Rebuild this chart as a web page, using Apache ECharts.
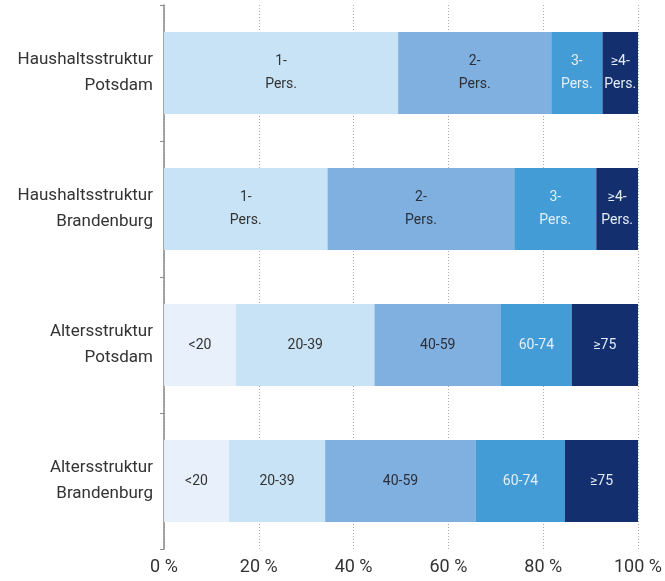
<!DOCTYPE html>
<html>
<head>
<meta charset="utf-8">
<script src="https://cdn.jsdelivr.net/npm/echarts@6/dist/echarts.min.js"></script>
<style>
  html, body { margin: 0; padding: 0; background: #fff; }
  #chart { width: 665px; height: 581px; }
</style>
</head>
<body>
<div id="chart"></div>
<script>
// Kategorien (oben nach unten)
var categories = ['Haushaltsstruktur\nPotsdam', 'Haushaltsstruktur\nBrandenburg', 'Altersstruktur\nPotsdam', 'Altersstruktur\nBrandenburg'];

// Anteile in %, je Farbstufe (hell -> dunkel)
var stufe1 = [null, null, 15.2, 13.7];   // <20
var stufe2 = [49.4, 34.5, 29.2, 20.3];   // 1-Pers. / 20-39
var stufe3 = [32.3, 39.4, 26.7, 31.8];   // 2-Pers. / 40-59
var stufe4 = [10.8, 17.3, 14.9, 18.8];   // 3-Pers. / 60-74
var stufe5 = [7.5, 8.8, 14.0, 15.4];     // >=4-Pers. / >=75

// Beschriftungen je Stufe
var labels1 = ['', '', '<20', '<20'];
var labels2 = ['1-\nPers.', '1-\nPers.', '20-39', '20-39'];
var labels3 = ['2-\nPers.', '2-\nPers.', '40-59', '40-59'];
var labels4 = ['3-\nPers.', '3-\nPers.', '60-74', '60-74'];
var labels5 = ['≥4-\nPers.', '≥4-\nPers.', '≥75', '≥75'];

var xTicks = [0, 20, 40, 60, 80, 100];

var fontName = '"Liberation Sans Narrow", "Roboto", sans-serif';

function makeSeries(name, data, names, color, textColor){
	return {
		name: name,
		type: 'bar',
		stack: 'gesamt',
		barWidth: 82,
		data: data,
		itemStyle: { color: color },
		label: {
			show: true,
			position: 'inside',
			color: textColor,
			fontFamily: fontName,
			fontSize: 14,
			lineHeight: 23,
			formatter: function(p){ return names[p.dataIndex]; }
		}
	};
}

var option = {
	animation: false,
	grid: { left: 164, right: 27, top: 5, bottom: 32 },
	xAxis: {
		type: 'value',
		min: 0,
		max: 100,
		interval: 20,
		axisLine: { show: false },
		axisTick: { show: false },
		axisLabel: {
			formatter: function(v){ return xTicks.indexOf(v) >= 0 ? v + ' %' : ''; },
			color: '#333',
			fontFamily: fontName,
			fontSize: 18,
			margin: 9
		},
		splitLine: { show: true, lineStyle: { color: '#aaa', type: [1, 2], width: 1 } }
	},
	yAxis: {
		type: 'category',
		inverse: true,
		data: categories,
		axisLine: { show: true, lineStyle: { color: '#888', width: 1.5 } },
		axisTick: { show: true, length: 4, lineStyle: { color: '#888' } },
		axisLabel: {
			color: '#333',
			fontFamily: fontName,
			fontSize: 17,
			lineHeight: 26,
			align: 'right',
			margin: 11
		}
	},
	series: [
		makeSeries('s1', stufe1, labels1, '#e8f1fb', '#333'),
		makeSeries('s2', stufe2, labels2, '#c8e3f6', '#333'),
		makeSeries('s3', stufe3, labels3, '#80b0e0', '#2a2f3a'),
		makeSeries('s4', stufe4, labels4, '#439cd6', '#e3f0fb'),
		makeSeries('s5', stufe5, labels5, '#142f6e', '#e3ecf8')
	]
};

var chart = echarts.init(document.getElementById('chart'));
chart.setOption(option);
</script>
</body>
</html>
